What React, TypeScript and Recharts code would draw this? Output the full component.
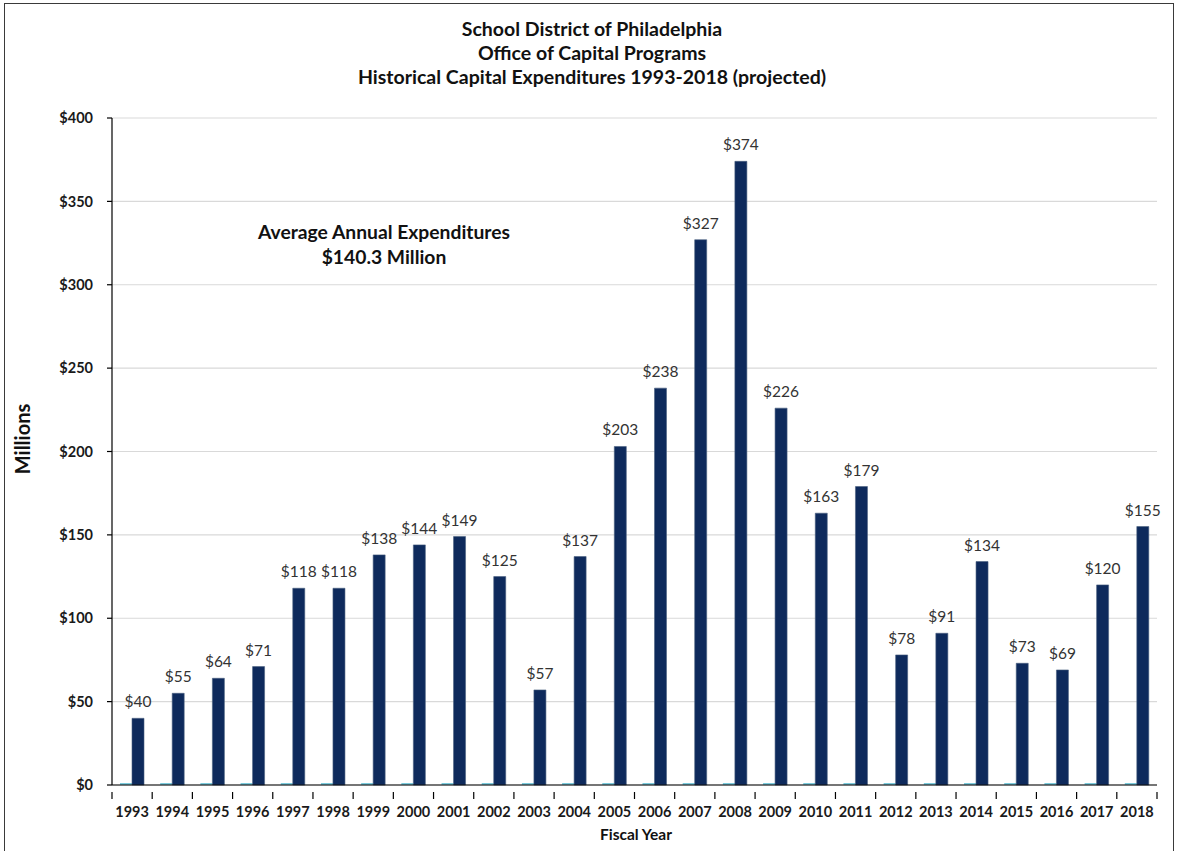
import React from "react";
import { BarChart, Bar, XAxis, YAxis, CartesianGrid, LabelList } from "recharts";

const years = ["1993","1994","1995","1996","1997","1998","1999","2000","2001","2002","2003","2004","2005","2006","2007","2008","2009","2010","2011","2012","2013","2014","2015","2016","2017","2018"];
const expenditures = [40,55,64,71,118,118,138,144,149,125,57,137,203,238,327,374,226,163,179,78,91,134,73,69,120,155];
const minorSeries = [1.2,1.2,1.2,1.2,1.2,1.2,1.2,1.2,1.2,1.2,1.2,1.2,1.2,1.2,1.2,1.2,1.2,1.2,1.2,1.2,1.2,1.2,1.2,1.2,1.2,1.2];
const yTicks = [0,50,100,150,200,250,300,350,400];
const titleLines = ["School District of Philadelphia","Office of Capital Programs","Historical Capital Expenditures 1993-2018 (projected)"];
const noteLines = ["Average Annual Expenditures","$140.3 Million"];

const data = years.map((y, i) => ({ year: y, minor: minorSeries[i], value: expenditures[i] }));

const W = 1177, H = 851;
const PLOT_L = 112, PLOT_R = 1157, PLOT_T = 118, PLOT_B = 785;
const X_AXIS_H = 30;
const BAND = (PLOT_R - PLOT_L) / years.length;
const FONT = "Lato, 'Open Sans', sans-serif";

const XTick = (props: any) => {
  const { x, y, payload } = props;
  const isLast = payload && payload.value === years[years.length - 1];
  return (
    <g>
      <line x1={x - BAND / 2} x2={x - BAND / 2} y1={y - 1} y2={y + 6} stroke="#000" strokeWidth={1.2} />
      {isLast && <line x1={x + BAND / 2} x2={x + BAND / 2} y1={y - 1} y2={y + 6} stroke="#000" strokeWidth={1.2} />}
      <text x={x} y={y + 24} textAnchor="middle" fontFamily={FONT} fontWeight={700} fontSize={14.5} fill="#1a1a1a">
        {payload.value}
      </text>
    </g>
  );
};

export default function App() {
  return (
    <div style={{ position: "absolute", left: 0, top: 0, width: W, height: H, background: "#fff", overflow: "hidden" }}>
      <div style={{ position: "absolute", left: 4, top: 3, width: 1170, height: 900, border: "1.5px solid #3a3a3a", boxSizing: "border-box" }} />
      <BarChart
        width={W}
        height={H}
        data={data}
        barSize={12}
        barGap={0}
        margin={{ top: PLOT_T, right: W - PLOT_R, bottom: H - PLOT_B - X_AXIS_H, left: PLOT_L - 60 }}
      >
        <CartesianGrid vertical={false} stroke="#d9d9d9" strokeWidth={1.2} />
        <XAxis
          dataKey="year"
          axisLine={{ stroke: "#000", strokeWidth: 1.2 }}
          tickLine={false}
          tick={<XTick />}
          interval={0}
          height={X_AXIS_H}
        />
        <YAxis
          width={60}
          domain={[0, 400]}
          ticks={yTicks}
          interval={0}
          axisLine={{ stroke: "#000", strokeWidth: 1.2 }}
          tickLine={{ stroke: "#000", strokeWidth: 1.2 }}
          tickSize={5}
          tickMargin={14}
          tickFormatter={(v: number) => `$${v}`}
          tick={{ fontFamily: FONT, fontWeight: 700, fontSize: 14.5, fill: "#1a1a1a" }}
        />
        <Bar dataKey="minor" fill="#7ccbdc" isAnimationActive={false} />
        <Bar dataKey="value" fill="#0e2a5c" stroke="#4a5f80" strokeWidth={0.6} isAnimationActive={false}>
          <LabelList
            dataKey="value"
            position="top"
            offset={11}
            formatter={(v: any) => `$${v}`}
            style={{ fontFamily: FONT, fontSize: 15.5, fill: "#333" }}
          />
        </Bar>
      </BarChart>
      <div style={{ position: "absolute", left: 342, top: 17, width: 500, textAlign: "center", fontFamily: FONT, fontWeight: 700, fontSize: 19.5, lineHeight: "24px", color: "#111" }}>
        {titleLines.map((t) => (
          <div key={t} style={{ whiteSpace: "nowrap" }}>{t}</div>
        ))}
      </div>
      <div style={{ position: "absolute", left: 234, top: 219, width: 300, textAlign: "center", fontFamily: FONT, fontWeight: 700, fontSize: 19.3, lineHeight: "25px", color: "#111" }}>
        {noteLines.map((t) => (
          <div key={t} style={{ whiteSpace: "nowrap" }}>{t}</div>
        ))}
      </div>
      <div style={{ position: "absolute", left: 22, top: 439, width: 0, height: 0 }}>
        <div style={{ position: "absolute", transform: "translate(-50%, -50%) rotate(-90deg)", fontFamily: FONT, fontWeight: 700, fontSize: 20, color: "#111", whiteSpace: "nowrap" }}>
          Millions
        </div>
      </div>
      <div style={{ position: "absolute", left: 536, top: 824, width: 200, textAlign: "center", fontFamily: FONT, fontWeight: 700, fontSize: 15.5, lineHeight: "20px", color: "#111" }}>
        Fiscal Year
      </div>
    </div>
  );
}
